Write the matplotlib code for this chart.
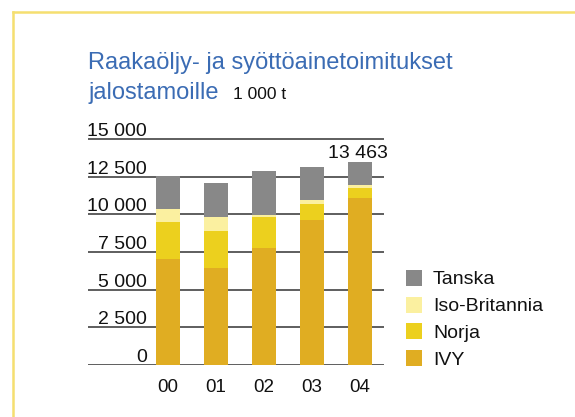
import matplotlib.pyplot as plt
from matplotlib.transforms import offset_copy
from matplotlib.patches import Rectangle
from matplotlib.lines import Line2D

plt.rcParams['font.family'] = ['Liberation Sans', 'DejaVu Sans']

years = ['00', '01', '02', '03', '04']
ivy = [7035, 6438, 7765, 9624, 11084]
norja = [2456, 2456, 2058, 1062, 664]
iso_britannia = [863, 929, 155, 265, 199]
tanska = [2190, 2257, 2898, 2191, 1516]
total_label = '13 463'
y_ticks = [0, 2500, 5000, 7500, 10000, 12500, 15000]
y_tick_labels = ['0', '2 500', '5 000', '7 500', '10 000', '12 500', '15 000']

series = [('IVY', ivy, '#e0ad22'),
          ('Norja', norja, '#ecd01e'),
          ('Iso-Britannia', iso_britannia, '#fbf0a0'),
          ('Tanska', tanska, '#888888')]

W, H = 575, 417
fig = plt.figure(figsize=(W / 100, H / 100), dpi=100)

# axes: x 88..384 px, y=0 at 365 px, 15000 at 139 px
ymax = 16000
px_per_unit = 226 / 15000
ax = fig.add_axes([88 / W, (H - 365) / H, 296 / W, ymax * px_per_unit / H])
ax.set_xlim(-1.667, 4.5)
ax.set_ylim(0, ymax)
ax.axis('off')

for v in y_ticks:
    ax.axhline(v, color='#333333', lw=1.1, zorder=1)

x = list(range(len(years)))
bottom = [0] * len(years)
for name, vals, col in series:
    ax.bar(x, vals, width=0.5, bottom=bottom, color=col, zorder=2, label=name)
    bottom = [b + v for b, v in zip(bottom, vals)]

# y labels sit right above each gridline
tr = offset_copy(ax.transData, fig=fig, y=3, units='dots')
for v, lab in zip(y_ticks, y_tick_labels):
    ax.text(-0.44, v, lab, transform=tr, ha='right', va='baseline',
            fontsize=14, color='#111111')

tr2 = offset_copy(ax.transData, fig=fig, y=-27, units='dots')
for xi, lab in zip(x, years):
    ax.text(xi, 0, lab, transform=tr2, ha='center', va='baseline',
            fontsize=13.5, color='#111111')

tr3 = offset_copy(ax.transData, fig=fig, y=4, units='dots')
ax.text(x[-1] - 0.04, bottom[-1], total_label, transform=tr3, ha='center',
        va='baseline', fontsize=14, color='#111111')

# title
fig.text(88 / W, 1 - 69 / H, 'Raakaöljy- ja syöttöainetoimitukset',
         fontsize=17, color='#3b6cb4', va='baseline', ha='left')
fig.text(88 / W, 1 - 99 / H, 'jalostamoille',
         fontsize=17, color='#3b6cb4', va='baseline', ha='left')
fig.text(233 / W, 1 - 99 / H, '1 000 t',
         fontsize=12.5, color='#111111', va='baseline', ha='left')

# legend drawn by hand: squares 16 px, rows 26.7 px apart
for i, (name, _, col) in enumerate(series[::-1]):
    yc = 278 + i * 26.7
    fig.add_artist(Rectangle((406 / W, 1 - (yc + 8) / H), 16 / W, 16 / H,
                             facecolor=col, edgecolor='none',
                             transform=fig.transFigure))
    fig.text(433 / W, 1 - yc / H, name, fontsize=14, color='#111111',
             va='center_baseline', ha='left')

# yellow frame lines
fig.add_artist(Line2D([13 / W, 13 / W], [0, 1 - 12 / H], color='#f5df70', lw=1.8))
fig.add_artist(Line2D([13 / W, 1], [1 - 12 / H, 1 - 12 / H], color='#f5df70', lw=1.8))

fig.savefig('out.png', dpi=100)
